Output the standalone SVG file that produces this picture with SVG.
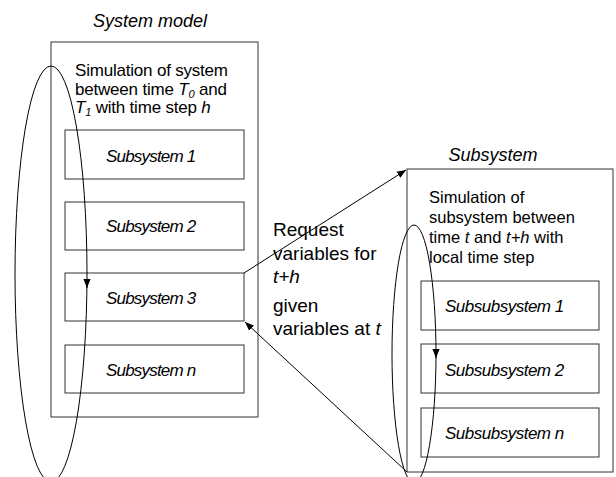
<svg xmlns="http://www.w3.org/2000/svg" width="616" height="477" viewBox="0 0 616 477">
<defs>
<style>
text{font-family:"Liberation Sans",Arial,sans-serif;fill:#000}
.it{font-style:italic}
.box{fill:#fff;stroke:#333;stroke-width:1}
.lbl{font-size:17px;font-style:italic;letter-spacing:-0.8px}
.slbl{font-size:17px;font-style:italic;letter-spacing:-0.5px}
.ttl{font-size:18px;font-style:italic}
.body{font-size:17px;letter-spacing:-0.2px}
.body2{font-size:16.5px}
.mid{font-size:19px}
.ln{fill:none;stroke:#000;stroke-width:1}
</style>
<marker id="ah" viewBox="0 0 10 10" refX="10" refY="5" markerWidth="9" markerHeight="9" markerUnits="userSpaceOnUse" orient="auto">
<path d="M0,1 L10,5 L0,9 Z" fill="#000"/>
</marker>
</defs>
<rect width="616" height="477" fill="#fff"/>

<g id="system">
<text x="150" y="27" class="ttl" text-anchor="middle">System model</text>
<rect class="box" x="51" y="42" width="207" height="375"/>
<text class="body" x="75" y="76">Simulation of system</text>
<text class="body" x="75" y="94.5">between time <tspan class="it">T</tspan><tspan class="it" font-size="11" dy="3">0</tspan><tspan dy="-3"> and</tspan></text>
<text class="body" x="75" y="113"><tspan class="it">T</tspan><tspan class="it" font-size="11" dy="3">1</tspan><tspan dy="-3"> with time step </tspan><tspan class="it">h</tspan></text>
</g>
<g id="sub1"><rect class="box" x="65" y="130" width="179" height="49"/><text class="lbl" x="106" y="161.5">Subsystem 1</text></g>
<g id="sub2"><rect class="box" x="65" y="202" width="179" height="48"/><text class="lbl" x="106" y="232">Subsystem 2</text></g>
<g id="sub3"><rect class="box" x="65" y="273" width="179" height="48"/><text class="lbl" x="106" y="303.5">Subsystem 3</text></g>
<g id="subn"><rect class="box" x="65" y="345" width="179" height="48"/><text class="lbl" x="106" y="375.5">Subsystem n</text></g>

<g id="subsystem">
<text x="493" y="161" class="ttl" font-size="17" text-anchor="middle">Subsystem</text>
<rect class="box" x="407" y="169" width="206" height="303"/>
<text class="body2" x="429" y="203">Simulation of</text>
<text class="body2" x="429" y="223">subsystem between</text>
<text class="body2" x="429" y="243">time <tspan class="it">t</tspan> and <tspan class="it">t+h</tspan> with</text>
<text class="body2" x="429" y="263">local time step</text>
</g>
<g id="ss1"><rect class="box" x="421" y="281" width="178" height="49"/><text class="slbl" x="445" y="312">Subsubsystem 1</text></g>
<g id="ss2"><rect class="box" x="421" y="344" width="178" height="49"/><text class="slbl" x="445" y="375.5">Subsubsystem 2</text></g>
<g id="ssn"><rect class="box" x="421" y="408" width="178" height="49"/><text class="slbl" x="445" y="439">Subsubsystem n</text></g>

<g id="request-label">
<text class="mid" x="273" y="236">Request</text>
<text class="mid" x="273" y="260">variables for</text>
<text class="mid" x="273" y="283"><tspan class="it">t+h</tspan></text>
<text class="mid" x="273" y="312">given</text>
<text class="mid" x="273" y="335">variables at <tspan class="it">t</tspan></text>
</g>

<g id="connectors">
<ellipse class="ln" cx="51" cy="274" rx="36" ry="208"/>
<path d="M87,280 L87,288" class="ln" marker-end="url(#ah)"/>
<ellipse class="ln" cx="414" cy="354" rx="22" ry="129"/>
<path d="M436,350 L436,358" class="ln" marker-end="url(#ah)"/>
<line class="ln" x1="244" y1="273" x2="406" y2="170" marker-end="url(#ah)"/>
<line class="ln" x1="407" y1="472" x2="245" y2="322" marker-end="url(#ah)"/>
</g>
</svg>
